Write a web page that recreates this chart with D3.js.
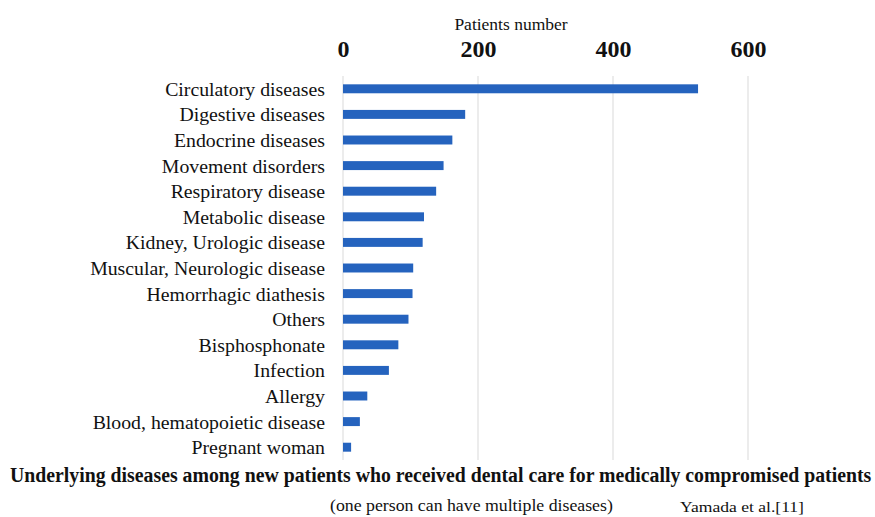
<!DOCTYPE html>
<html><head><meta charset="utf-8">
<script src="https://cdn.jsdelivr.net/npm/d3@7"></script>
<style>body{margin:0;background:#fff}svg{display:block}</style>
</head><body><svg id="c" width="875" height="517"></svg>
<script>
const categories = ["Circulatory diseases","Digestive diseases","Endocrine diseases","Movement disorders","Respiratory disease","Metabolic disease","Kidney, Urologic disease","Muscular, Neurologic disease","Hemorrhagic diathesis","Others","Bisphosphonate","Infection","Allergy","Blood, hematopoietic disease","Pregnant woman"];
const values = [526,181,162,149,138,120,118,104,103,97,82,68,36,25,12];
const tickValues = [0,200,400,600];
const axisTitle = "Patients number";
const title = "Underlying diseases among new patients who received dental care for medically compromised patients";
const note = "(one person can have multiple diseases)";
const source = "Yamada et al.[11]";

const FONT = "'Liberation Serif','Times New Roman',serif";
const svg = d3.select("#c");
const x = d3.scaleLinear().domain([0,600]).range([343,748]);
const y = d3.scaleBand().domain(categories).range([76,460]).paddingInner(0.65).paddingOuter(0.325);

// gridlines
svg.append("g").selectAll("line").data(tickValues).join("line")
  .attr("x1",d=>x(d)).attr("x2",d=>x(d)).attr("y1",76).attr("y2",460)
  .attr("stroke","#d9d9d9").attr("stroke-width",1);

// bars
svg.append("g").selectAll("rect").data(categories).join("rect")
  .attr("x",x(0)).attr("y",d=>y(d))
  .attr("width",(d,i)=>x(values[i])-x(0)).attr("height",y.bandwidth())
  .attr("fill","#2563be");

// top axis
const ax = svg.append("g").attr("transform","translate(0,57)")
  .call(d3.axisTop(x).tickValues(tickValues).tickSize(0).tickPadding(0));
ax.select(".domain").remove();
ax.selectAll("text").style("font-family",FONT).style("font-size","24px").style("font-weight","bold").style("fill","#111").attr("dy",0);

function txt(xp,yp,s,size,anchor){
  return svg.append("text").attr("x",xp).attr("y",yp).attr("text-anchor",anchor||"start")
    .style("font-family",FONT).style("font-size",size+"px").style("fill","#111").text(s);
}
txt(511,30,axisTitle,17.5,"middle");

// category labels
svg.append("g").selectAll("text").data(categories).join("text")
  .attr("x",325).attr("y",d=>y(d)+y.bandwidth()/2).attr("dy","0.35em")
  .attr("text-anchor","end").style("font-family",FONT).style("font-size","19.8px").style("fill","#111").text(d=>d);

function fitted(xp,yp,s,size,w,bold){
  const t = svg.append("text").attr("x",0).attr("y",0)
    .style("font-family",FONT).style("font-size",size+"px").style("fill","#111")
    .style("font-weight",bold?"bold":"normal").text(s);
  const L = t.node().getComputedTextLength();
  t.attr("transform",`translate(${xp},${yp}) scale(${w/L},1)`);
  return t;
}
fitted(10,482,title,21,862,true);
fitted(330,511,note,16,283,false);
fitted(680,512,source,15.5,124,false);
</script></body></html>
